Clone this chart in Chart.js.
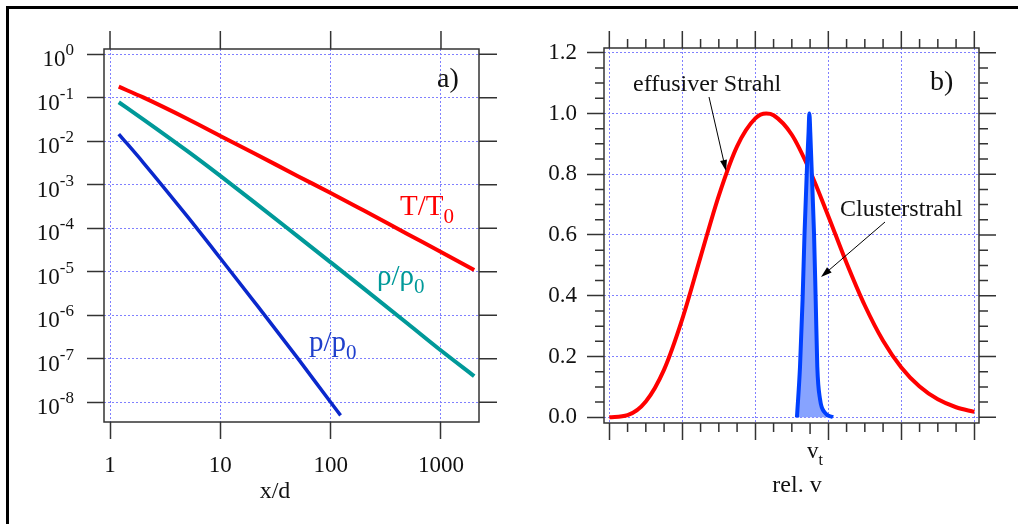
<!DOCTYPE html>
<html>
<head>
<meta charset="utf-8">
<title>Freistrahl</title>
<script src="https://cdn.jsdelivr.net/npm/chart.js@4.4.1/dist/chart.umd.min.js"></script>
<style>
  body { margin: 0; background: #fff; width: 1018px; height: 524px; overflow: hidden; position: relative; }
  #frame { position: absolute; left: 6px; top: 6px; width: 1200px; height: 700px; border-left: 3px solid #000; border-top: 3px solid #000; }
  canvas { position: absolute; top: 0; }
  #chart-a { left: 0; }
  #chart-b { left: 509px; }
</style>
</head>
<body>
<div id="frame"></div>
<canvas id="chart-a" width="509" height="524"></canvas>
<canvas id="chart-b" width="509" height="524"></canvas>
<script>
// panel a) - expansion, log-log
const xd = [1.2, 2, 5, 10, 20, 50, 100, 200, 500, 1000, 2000];
const tRatio = [0.18, 0.102, 0.033, 0.0133, 0.0054, 0.0016, 6.5e-4, 2.55e-4, 7.3e-5, 2.85e-5, 1.1e-5];
const rhoRatio = [0.079, 0.032, 6.0e-3, 1.6e-3, 4.1e-4, 6.6e-5, 1.65e-5, 4.1e-6, 6.4e-7, 1.55e-7, 4.0e-8];
const xdP = [1.2, 2, 5, 10, 20, 50, 100, 123];
const pRatio = [0.0147, 3.25e-3, 1.9e-4, 2.05e-5, 2.15e-6, 1.05e-7, 1.0e-8, 5.0e-9];
const xTicksA = [1, 10, 100, 1000];
const yExpA = [0, -1, -2, -3, -4, -5, -6, -7, -8];

// panel b) - velocity distributions
const vEff = [0, 0.25, 0.5, 0.75, 1, 1.25, 1.5, 1.75, 2, 2.15, 2.25, 2.5, 2.75, 3, 3.25, 3.5, 3.75, 4, 4.25, 4.5, 4.75, 5];
const effusive = [0, 0.007, 0.052, 0.157, 0.324, 0.528, 0.730, 0.892, 0.984, 1.0, 0.994, 0.930, 0.810, 0.662, 0.508, 0.368, 0.252, 0.164, 0.101, 0.059, 0.033, 0.018];
const vCl = [2.57, 2.612, 2.647, 2.674, 2.708, 2.729, 2.74, 2.753, 2.77, 2.804, 2.827, 2.849, 2.886, 2.954, 3.064];
const cluster = [0, 0.166, 0.385, 0.605, 0.826, 0.936, 1.0, 0.936, 0.826, 0.605, 0.385, 0.166, 0.06, 0.015, 0];
const xTicksB = [0, 1, 2, 3, 4, 5];
const yTicksB = [0, 0.2, 0.4, 0.6, 0.8, 1.0, 1.2];
const vT = 2.75;

const serif = '"Liberation Serif", "Times New Roman", serif';
const gridColor = '#8080ff';
const axisColor = '#333';
Chart.defaults.font.family = serif;
Chart.defaults.font.size = 23;
Chart.defaults.color = '#111';

const pts = (xs, ys) => xs.map((x, i) => ({ x: x, y: ys[i] }));

// text with a subscript
function subText(ctx, main, sub, x, y, size, subSize, drop, color) {
    ctx.fillStyle = color;
    ctx.font = size + 'px ' + serif;
    ctx.fillText(main, x, y);
    const w = ctx.measureText(main).width;
    ctx.font = subSize + 'px ' + serif;
    ctx.fillText(sub, x + w, y + drop);
}

function arrow(ctx, x1, y1, x2, y2) {
    const ang = Math.atan2(y2 - y1, x2 - x1), L = 11, W = 3.5;
    const c = Math.cos(ang), s = Math.sin(ang);
    ctx.beginPath();
    ctx.moveTo(x1, y1);
    ctx.lineTo(x2 - L * 0.8 * c, y2 - L * 0.8 * s);
    ctx.stroke();
    ctx.beginPath();
    ctx.moveTo(x2, y2);
    ctx.lineTo(x2 - L * c + W * s, y2 - L * s - W * c);
    ctx.lineTo(x2 - L * c - W * s, y2 - L * s + W * c);
    ctx.closePath();
    ctx.fill();
}

const decorA = {
    id: 'decorA',
    afterDraw(chart) {
        const { ctx, chartArea: a, scales: { x, y } } = chart;
        ctx.save();
        ctx.strokeStyle = axisColor;
        ctx.lineWidth = 1.5;
        ctx.strokeRect(a.left, a.top, a.right - a.left, a.bottom - a.top);
        ctx.beginPath();
        xTicksA.forEach(v => {
            const px = x.getPixelForValue(v);
            ctx.moveTo(px, a.top);
            ctx.lineTo(px, a.top - 18);
        });
        yExpA.forEach(e => {
            const py = y.getPixelForValue(Math.pow(10, e));
            ctx.moveTo(a.right, py);
            ctx.lineTo(a.right + 18, py);
        });
        ctx.stroke();

        // y tick labels 10^n
        ctx.textBaseline = 'alphabetic';
        ctx.textAlign = 'left';
        ctx.fillStyle = '#111';
        yExpA.forEach(e => {
            const py = y.getPixelForValue(Math.pow(10, e));
            const sup = e === 0 ? '0' : '-' + (-e);
            ctx.font = '17px ' + serif;
            const ws = ctx.measureText(sup).width;
            ctx.font = '23px ' + serif;
            const wb = ctx.measureText('10').width;
            const x0 = 74 - ws - wb;
            ctx.fillText('10', x0, py + 12);
            ctx.font = '17px ' + serif;
            ctx.fillText(sup, x0 + wb, py + 1);
        });

        ctx.font = '28px ' + serif;
        ctx.fillText('a)', 437, 87);
        subText(ctx, 'T/T', '0', 400, 215, 29, 21, 8, '#ff0000');
        subText(ctx, 'ρ/ρ', '0', 377, 285, 29, 21, 8, '#009999');
        subText(ctx, 'p/p', '0', 309, 351, 29, 21, 8, '#1f3fcc');

        ctx.fillStyle = '#111';
        ctx.textAlign = 'center';
        ctx.font = '24px ' + serif;
        ctx.fillText('x/d', 275, 498);
        ctx.restore();
    }
};

const decorB = {
    id: 'decorB',
    afterDraw(chart) {
        const { ctx, chartArea: a, scales: { x, y } } = chart;
        ctx.save();
        ctx.strokeStyle = axisColor;
        ctx.lineWidth = 1.5;
        ctx.strokeRect(a.left, a.top, a.right - a.left, a.bottom - a.top);
        ctx.beginPath();
        for (let i = 0; i <= 20; i++) {
            const v = i * 0.25, px = x.getPixelForValue(v);
            const major = i % 4 === 0;
            if (!major) {
                ctx.moveTo(px, a.bottom);
                ctx.lineTo(px, a.bottom + (v === vT ? 11 : 9));
            }
            ctx.moveTo(px, a.top);
            ctx.lineTo(px, a.top - (major ? 17 : 9));
        }
        for (let i = 0; i <= 24; i++) {
            const py = y.getPixelForValue(i * 0.05);
            const major = i % 4 === 0;
            if (!major) {
                ctx.moveTo(a.left, py);
                ctx.lineTo(a.left - 9, py);
            }
            ctx.moveTo(a.right, py);
            ctx.lineTo(a.right + (major ? 17 : 9), py);
        }
        ctx.stroke();

        ctx.textBaseline = 'alphabetic';
        ctx.textAlign = 'left';
        ctx.fillStyle = '#111';
        ctx.font = '28px ' + serif;
        ctx.fillText('b)', 421, 90);
        ctx.font = '24px ' + serif;
        ctx.fillText('effusiver Strahl', 124, 91);
        ctx.fillText('Clusterstrahl', 331, 216);
        subText(ctx, 'v', 't', 298, 458, 23, 16, 7, '#111');
        ctx.textAlign = 'center';
        ctx.font = '24px ' + serif;
        ctx.fillText('rel. v', 288, 492);

        ctx.strokeStyle = '#000';
        ctx.fillStyle = '#000';
        ctx.lineWidth = 1;
        arrow(ctx, 200, 97, 217, 171);
        arrow(ctx, 376, 222, 312, 277);
        ctx.restore();
    }
};

const chartA = new Chart(document.getElementById('chart-a'), {
    type: 'line',
    data: {
        datasets: [
            { label: 'T/T0', data: pts(xd, tRatio), borderColor: '#ff0000', borderWidth: 4 },
            { label: 'rho/rho0', data: pts(xd, rhoRatio), borderColor: '#009999', borderWidth: 4 },
            { label: 'p/p0', data: pts(xdP, pRatio), borderColor: '#0a28cc', borderWidth: 3.5 }
        ]
    },
    options: {
        responsive: false,
        animation: false,
        layout: { padding: { top: 49, right: 30, left: 0, bottom: 0 } },
        elements: { point: { radius: 0 }, line: { cubicInterpolationMode: 'monotone' } },
        plugins: { legend: { display: false }, tooltip: { enabled: false } },
        scales: {
            x: {
                type: 'logarithmic',
                min: 0.882,
                max: 2211,
                afterBuildTicks: s => { s.ticks = xTicksA.map(v => ({ value: v })); },
                afterFit: s => { s.height = 102; },
                ticks: { callback: v => String(v), padding: 13, maxRotation: 0, autoSkip: false },
                grid: { color: gridColor, lineWidth: 1, tickLength: 17, tickColor: axisColor, tickWidth: 1.5 },
                border: { display: false, dash: [2, 2] }
            },
            y: {
                type: 'logarithmic',
                min: 3.52e-9,
                max: 1.324,
                afterBuildTicks: s => { s.ticks = yExpA.map(e => ({ value: Math.pow(10, e) })); },
                afterFit: s => { s.width = 104; },
                ticks: { display: false },
                grid: { color: gridColor, lineWidth: 1, tickLength: 17, tickColor: axisColor, tickWidth: 1.5 },
                border: { display: false, dash: [2, 2] }
            }
        }
    },
    plugins: [decorA]
});

const chartB = new Chart(document.getElementById('chart-b'), {
    type: 'line',
    data: {
        datasets: [
            {
                label: 'Clusterstrahl', data: pts(vCl, cluster), order: 0,
                borderColor: '#0040ff', borderWidth: 4, fill: 'origin', backgroundColor: '#87a3ff',
                cubicInterpolationMode: 'monotone'
            },
            {
                label: 'effusiver Strahl', data: pts(vEff, effusive), order: 1,
                borderColor: '#ff0000', borderWidth: 4, fill: false,
                cubicInterpolationMode: 'monotone'
            }
        ]
    },
    options: {
        responsive: false,
        animation: false,
        layout: { padding: { top: 48, right: 39, left: 0, bottom: 0 } },
        elements: { point: { radius: 0 } },
        plugins: { legend: { display: false }, tooltip: { enabled: false } },
        scales: {
            x: {
                type: 'linear',
                min: -0.073,
                max: 5.064,
                afterBuildTicks: s => { s.ticks = xTicksB.map(v => ({ value: v })); },
                afterFit: s => { s.height = 101; },
                ticks: { display: false },
                grid: { color: gridColor, lineWidth: 1, tickLength: 17, tickColor: axisColor, tickWidth: 1.5 },
                border: { display: false, dash: [2, 2] }
            },
            y: {
                type: 'linear',
                min: -0.0188,
                max: 1.2155,
                afterBuildTicks: s => { s.ticks = yTicksB.map(v => ({ value: v })); },
                afterFit: s => { s.width = 95; },
                ticks: { callback: v => v.toFixed(1), padding: 10 },
                grid: { color: gridColor, lineWidth: 1, tickLength: 17, tickColor: axisColor, tickWidth: 1.5 },
                border: { display: false, dash: [2, 2] }
            }
        }
    },
    plugins: [decorB]
});
</script>
</body>
</html>
